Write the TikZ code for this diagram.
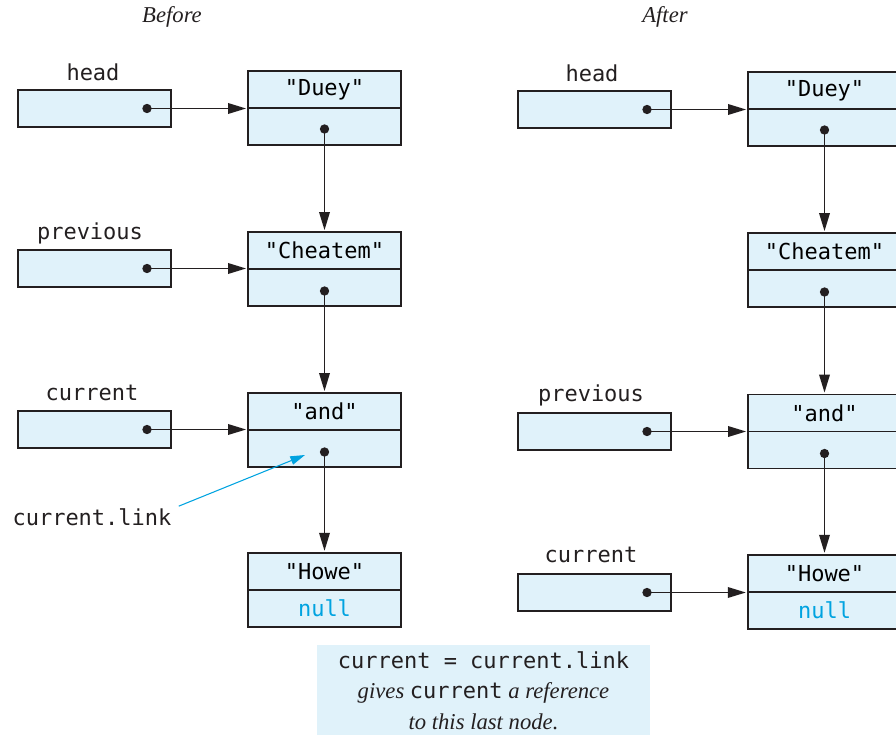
\documentclass[tikz,border=0pt]{standalone}
\usepackage{fontspec}
\setmainfont{Liberation Serif}
\setmonofont{DejaVu Sans Mono}
\usetikzlibrary{arrows.meta}
\definecolor{cellfill}{HTML}{E0F2FA}
\definecolor{nullcol}{HTML}{00A3E0}
\definecolor{ink}{HTML}{231F20}

\begin{document}
\begin{tikzpicture}[x=0.75pt,y=-0.75pt,font=\ttfamily\fontsize{16.5}{20}\selectfont,
  cell/.style={draw=ink,line width=0.9pt,fill=cellfill,minimum width=114.75pt,minimum height=27.75pt,inner sep=0pt},
  dot/.style={circle,fill=ink,inner sep=0pt,minimum size=7pt},
  ptr/.style={-{Triangle[length=13.5pt,width=8pt]},line width=0.95pt,ink,shorten >=1pt},
  hint/.style={-{Triangle[length=11pt,width=6.5pt]},line width=0.8pt,nullcol},
  lbl/.style={inner sep=0pt,text=ink},
  ttl/.style={font=\rmfamily\itshape\fontsize{17}{20}\selectfont,text=ink},
  notebox/.style={fill=cellfill,align=center,inner sep=0pt,minimum width=249.75pt,minimum height=68.25pt,text=ink}]
  \clip (0,0) rectangle (896,735);

  % ===== titles =====
  \node[ttl] (tb) at (172,17) {Before};
  \node[ttl] (ta) at (665,17) {After};

  % ===== before: list nodes =====
  \node[cell] (bduey) at (324.5,89.5) {"Duey"};
  \node[cell] (bdueyL) at (324.5,126.5) {};
  \node[cell] (bche) at (324.5,250.5) {"Cheatem"};
  \node[cell] (bcheL) at (324.5,287.5) {};
  \node[cell] (band) at (324.5,411.5) {"and"};
  \node[cell] (bandL) at (324.5,448.5) {};
  \node[cell,line width=1.3pt] (bhowe) at (324.5,571.5) {"Howe"};
  \node[cell] (bhoweL) at (324.5,608.5) {\textcolor{nullcol}{null}};

  % ===== before: reference variables =====
  \node[cell] (bhead) at (94.5,108.5) {};
  \node[lbl] at (93,72) {head};
  \node[cell] (bprev) at (94.5,268.5) {};
  \node[lbl] at (90,233) {previous};
  \node[cell] (bcur) at (94.5,429.5) {};
  \node[lbl] at (92,393) {current};

  % ===== before: links =====
  \node[dot] (bheadd) at (147,108.5) {};
  \node[dot] (bprevd) at (147,268.5) {};
  \node[dot] (bcurd) at (147,429.5) {};
  \node[dot] (bdueyd) at (324.5,129) {};
  \node[dot] (bched) at (324.5,291) {};
  \node[dot] (bandd) at (324.5,452) {};
  \draw[ptr] (bheadd.center) -- (bheadd.center -| bduey.west);
  \draw[ptr] (bprevd.center) -- (bprevd.center -| bche.west);
  \draw[ptr] (bcurd.center) -- (bcurd.center -| band.west);
  \draw[ptr] (bdueyd.center) -- (bche.north);
  \draw[ptr] (bched.center) -- (band.north);
  \draw[ptr] (bandd.center) -- (bhowe.north);

  % current.link pointer
  \node[lbl] (clink) at (92,517) {current.link};
  \coordinate (clinkend) at (305,455);
  \draw[hint] (clink.north east) ++(7,-2) -- (clinkend);

  % ===== after: list nodes =====
  \node[cell] (aduey) at (824.5,90.5) {"Duey"};
  \node[cell] (adueyL) at (824.5,127.5) {};
  \node[cell] (ache) at (824.5,251.5) {"Cheatem"};
  \node[cell] (acheL) at (824.5,288.5) {};
  \node[cell] (aand) at (824.5,413) {"and"};
  \node[cell] (aandL) at (824.5,450) {};
  \node[cell,line width=1.3pt] (ahowe) at (824.5,573.5) {"Howe"};
  \node[cell] (ahoweL) at (824.5,610.5) {\textcolor{nullcol}{null}};

  % ===== after: reference variables =====
  \node[cell] (ahead) at (594.5,109.5) {};
  \node[lbl] at (592,73) {head};
  \node[cell] (aprev) at (594.5,431.5) {};
  \node[lbl] at (591,395) {previous};
  \node[cell] (acur) at (594.5,592.5) {};
  \node[lbl] at (591,555) {current};

  % ===== after: links =====
  \node[dot] (aheadd) at (647,109.5) {};
  \node[dot] (aprevd) at (647,431.5) {};
  \node[dot] (acurd) at (647,592.5) {};
  \node[dot] (adueyd) at (824.5,130) {};
  \node[dot] (ached) at (824.5,292) {};
  \node[dot] (aandd) at (824.5,453.5) {};
  \draw[ptr] (aheadd.center) -- (aheadd.center -| aduey.west);
  \draw[ptr] (aprevd.center) -- (aprevd.center -| aand.west);
  \draw[ptr] (acurd.center) -- (acurd.center -| ahowe.west);
  \draw[ptr] (adueyd.center) -- (ache.north);
  \draw[ptr] (ached.center) -- (aand.north);
  \draw[ptr] (aandd.center) -- (ahowe.north);

  % ===== caption =====
  \node[notebox] (note) at (483.5,690.5) {current = current.link\\[3pt]
    {\rmfamily\itshape\fontsize{17}{20}\selectfont gives }current{\rmfamily\itshape\fontsize{17}{20}\selectfont\ a reference}\\[3pt]
    {\rmfamily\itshape\fontsize{17}{20}\selectfont to this last node.}};
\end{tikzpicture}
\end{document}
